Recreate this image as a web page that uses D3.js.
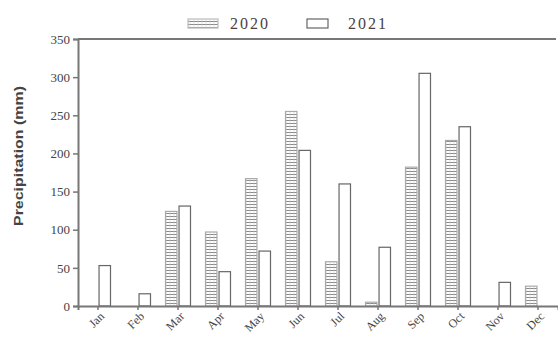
<!DOCTYPE html>
<html><head><meta charset="utf-8">
<script src="https://cdn.jsdelivr.net/npm/d3@7"></script>
<style>body{margin:0;background:#fff}svg{display:block}</style>
</head><body>
<svg id="c" width="558" height="338"></svg>
<script>
const months = ["Jan","Feb","Mar","Apr","May","Jun","Jul","Aug","Sep","Oct","Nov","Dec"];
const series = ["2020","2021"];
const values2020 = [0,0,124,97,167,255,58,5,182,217,0,26];
const values2021 = [53,16,131,45,72,204,160,77,305,235,31,0];
const yTicks = [0,50,100,150,200,250,300,350];

const svg = d3.select("#c");
const L = 78, R = 558, T = 39, B = 306;
const x = d3.scaleBand().domain(months).range([L, R]).padding(0);
const y = d3.scaleLinear().domain([0, 350]).range([B, T]);
const sub = d3.scaleBand().domain(series).range([-13, 13]).paddingInner(0.08);

const defs = svg.append("defs");
const pat = defs.append("pattern").attr("id","hatch").attr("patternUnits","userSpaceOnUse")
  .attr("width",4).attr("height",3);
pat.append("rect").attr("width",4).attr("height",3).attr("fill","#fff");
pat.append("line").attr("x1",0).attr("x2",4).attr("y1",0.5).attr("y2",0.5)
  .attr("stroke","#888").attr("stroke-width",1);
pat.append("line").attr("x1",2).attr("x2",2).attr("y1",0).attr("y2",3)
  .attr("stroke","#ccc").attr("stroke-width",0.6);

const axisCol = "#777";
const serif = "'Liberation Serif', 'Times New Roman', serif";

// bars
const data = months.map((m,i)=>({m, v:[values2020[i], values2021[i]]}));
const g = svg.append("g");
series.forEach((s, si) => {
  g.selectAll(".b"+s).data(data.filter(d=>d.v[si]>0)).join("rect")
    .attr("x", d => x(d.m) + x.bandwidth()/2 + sub(s) + 0.5)
    .attr("y", d => y(d.v[si]))
    .attr("width", sub.bandwidth() - 1)
    .attr("height", d => B - y(d.v[si]))
    .attr("fill", si === 0 ? "url(#hatch)" : "#fff")
    .attr("stroke", si === 0 ? "#aaa" : "#666")
    .attr("stroke-width", 1.2);
});

// y axis
const ya = svg.append("g").attr("transform", `translate(${L},0)`)
  .call(d3.axisLeft(y).tickValues(yTicks).tickSize(5).tickPadding(3));
ya.select(".domain").attr("stroke", axisCol).attr("stroke-width", 2);
ya.selectAll(".tick line").attr("stroke", axisCol).attr("stroke-width", 1.5);
ya.selectAll(".tick text").style("font-family", serif).attr("font-size", 13).attr("fill","#444");

// x axis
const xa = svg.append("g").attr("transform", `translate(0,${B})`)
  .call(d3.axisBottom(x).tickSize(4).tickFormat(""));
xa.select(".domain").attr("stroke", axisCol).attr("stroke-width", 2);
xa.selectAll(".tick line").attr("stroke", axisCol).attr("stroke-width", 1.5);
svg.append("g").selectAll("text").data(months).join("text")
  .attr("transform", d => `translate(${x(d) + x.bandwidth()/2 + 7},${B + 11}) rotate(-45)`)
  .attr("text-anchor","end").style("font-family", serif).attr("font-size", 12)
  .attr("fill","#444").text(d=>d);

// top line
svg.append("line").attr("x1", L).attr("x2", R - 2).attr("y1", T).attr("y2", T)
  .attr("stroke", axisCol).attr("stroke-width", 2);

// y title
svg.append("text").attr("transform", `translate(23,156) rotate(-90)`)
  .attr("text-anchor","middle").style("font-family","'Liberation Sans Narrow', 'Liberation Sans', Arial, sans-serif")
  .attr("font-size", 13).attr("font-weight","bold").attr("fill","#444")
  .attr("textLength", 140).attr("lengthAdjust","spacingAndGlyphs").text("Precipitation (mm)");

// legend
const leg = [{s:"2020", sx:188, tx:230},{s:"2021", sx:307, tx:348}];
leg.forEach((l, i) => {
  svg.append("rect").attr("x", l.sx).attr("y", 19).attr("width", i===0?30:21).attr("height", 9)
    .attr("fill", i===0 ? "url(#hatch)" : "#fff").attr("stroke", i===0 ? "#bbb" : "#666").attr("stroke-width", 1.2);
  svg.append("text").attr("x", l.tx).attr("y", 29).style("font-family", serif)
    .attr("font-size", 16).attr("letter-spacing", 2).attr("fill","#444").text(l.s);
});
</script>
</body></html>
